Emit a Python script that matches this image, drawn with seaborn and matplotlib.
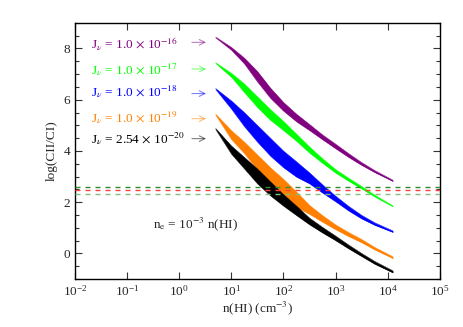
import numpy as np
import pandas as pd
import seaborn as sns
import matplotlib.pyplot as plt
from matplotlib.ticker import LogLocator, MultipleLocator, NullLocator

n_hi = [5, 10, 17.8, 31.6, 56.2, 100, 178, 316, 562, 1000, 1780, 3160, 5620, 12600]

# upper / lower edge of log(CII/CI) for each radiation field
purple_hi = [8.45, 8.05, 7.63, 7.11, 6.46, 5.90, 5.44, 5.04, 4.63, 4.27, 3.90, 3.55, 3.24, 2.86]
purple_lo = [8.42, 7.94, 7.40, 6.70, 6.06, 5.56, 5.14, 4.80, 4.44, 4.09, 3.75, 3.44, 3.16, 2.81]
green_hi = [7.45, 7.04, 6.62, 6.12, 5.62, 5.16, 4.66, 4.16, 3.70, 3.28, 2.94, 2.62, 2.28, 1.86]
green_lo = [7.42, 6.88, 6.28, 5.70, 5.20, 4.80, 4.38, 3.92, 3.52, 3.14, 2.82, 2.52, 2.21, 1.82]
blue_hi = [6.44, 5.96, 5.50, 5.00, 4.50, 4.00, 3.58, 3.15, 2.68, 2.24, 1.84, 1.49, 1.20, 0.88]
blue_lo = [6.40, 5.64, 4.95, 4.35, 3.80, 3.35, 2.98, 2.72, 2.36, 2.02, 1.66, 1.35, 1.10, 0.82]
orange_hi = [5.44, 4.80, 4.35, 3.85, 3.35, 2.90, 2.40, 1.88, 1.48, 1.12, 0.82, 0.55, 0.24, -0.13]
orange_lo = [5.40, 4.45, 3.90, 3.25, 2.65, 2.17, 1.80, 1.53, 1.22, 0.93, 0.66, 0.42, 0.14, -0.20]
black_hi = [4.88, 4.20, 3.75, 3.30, 2.80, 2.30, 1.85, 1.38, 1.02, 0.68, 0.33, 0.00, -0.31, -0.68]
black_lo = [4.84, 3.88, 3.30, 2.72, 2.25, 1.85, 1.48, 1.12, 0.80, 0.50, 0.18, -0.12, -0.42, -0.76]

band_names = ['1e-16', '1e-17', '1e-18', '1e-19', '2.54e-20']
band_colors = ['#800080', '#00ff00', '#0000ff', '#ff8000', '#000000']
band_labels = [r'J$_\nu$ = 1.0 $\times$ 10$^{-16}$',
               r'J$_\nu$ = 1.0 $\times$ 10$^{-17}$',
               r'J$_\nu$ = 1.0 $\times$ 10$^{-18}$',
               r'J$_\nu$ = 1.0 $\times$ 10$^{-19}$',
               r'J$_\nu$ = 2.54 $\times$ 10$^{-20}$']
label_y = [8.17, 7.19, 6.31, 5.31, 4.50]
arrow_y = [8.24, 7.20, 6.24, 5.26, 4.48]

# observed ratio levels (dashed)
obs_levels = [2.60, 2.46, 2.32]
obs_colors = ['#2e8b2e', '#ff4040', '#7fbf7f']

his = [purple_hi, green_hi, blue_hi, orange_hi, black_hi]
los = [purple_lo, green_lo, blue_lo, orange_lo, black_lo]

rows = []
for name, hi, lo in zip(band_names, his, los):
    for n, h, l in zip(n_hi, hi, lo):
        rows.append((name, 'hi', n, h))
        rows.append((name, 'lo', n, l))
df = pd.DataFrame(rows, columns=['band', 'edge', 'n', 'ratio'])

sns.set_theme(style='ticks')
plt.rcParams['font.family'] = ['Liberation Serif', 'DejaVu Serif']
plt.rcParams['mathtext.fontset'] = 'stix'

fig = plt.figure(figsize=(4.63, 3.27), dpi=100)
ax = fig.add_axes([0.162, 0.147, 0.788, 0.783])

for i, (name, c, hi, lo) in enumerate(zip(band_names, band_colors, his, los)):
    ax.fill_between(n_hi, lo, hi, color=c, lw=0, zorder=2 + 2 * i)
    sns.lineplot(data=df[df.band == name], x='n', y='ratio', style='edge',
                 color=c, dashes=False, lw=0.3, legend=False, ax=ax,
                 estimator=None, zorder=3 + 2 * i)

for lev, c in zip(obs_levels, obs_colors):
    ax.axhline(lev, color=c, lw=1.0, dashes=(3.6, 3.6), zorder=20)

for lab, c, ly, ay in zip(band_labels, band_colors, label_y, arrow_y):
    ax.text(0.02, ly, lab, color=c, fontsize=9.5, va='center', ha='left')
    ax.annotate('', xy=(3.7, ay), xytext=(1.55, ay),
                arrowprops=dict(arrowstyle='->', color=c, alpha=0.5, lw=0.8,
                                mutation_scale=10))

ax.text(0.31, 1.12, r'n$_\mathrm{e}$ = 10$^{-3}$ n(HI)', fontsize=9.5, va='center')

ax.set_xscale('log')
ax.set_xlim(1e-2, 1e5)
ax.set_ylim(-1, 9)
ax.xaxis.set_major_locator(LogLocator(base=10, numticks=10))
ax.xaxis.set_minor_locator(NullLocator())
ax.yaxis.set_major_locator(MultipleLocator(2))
ax.yaxis.set_minor_locator(MultipleLocator(0.5))
ax.tick_params(which='both', direction='in', top=True, right=True,
               labelsize=9.5, width=0.8, color='#333333')
ax.tick_params(which='major', length=5)
ax.tick_params(which='minor', length=3)
for sp in ax.spines.values():
    sp.set_linewidth(1.0)
    sp.set_color('black')

ax.set_xlabel(r'n(HI) (cm$^{-3}$)', fontsize=9.5, labelpad=1)
ax.set_ylabel('log(CII/CI)', fontsize=9.5, labelpad=4)

fig.savefig('out.png', dpi=100)
